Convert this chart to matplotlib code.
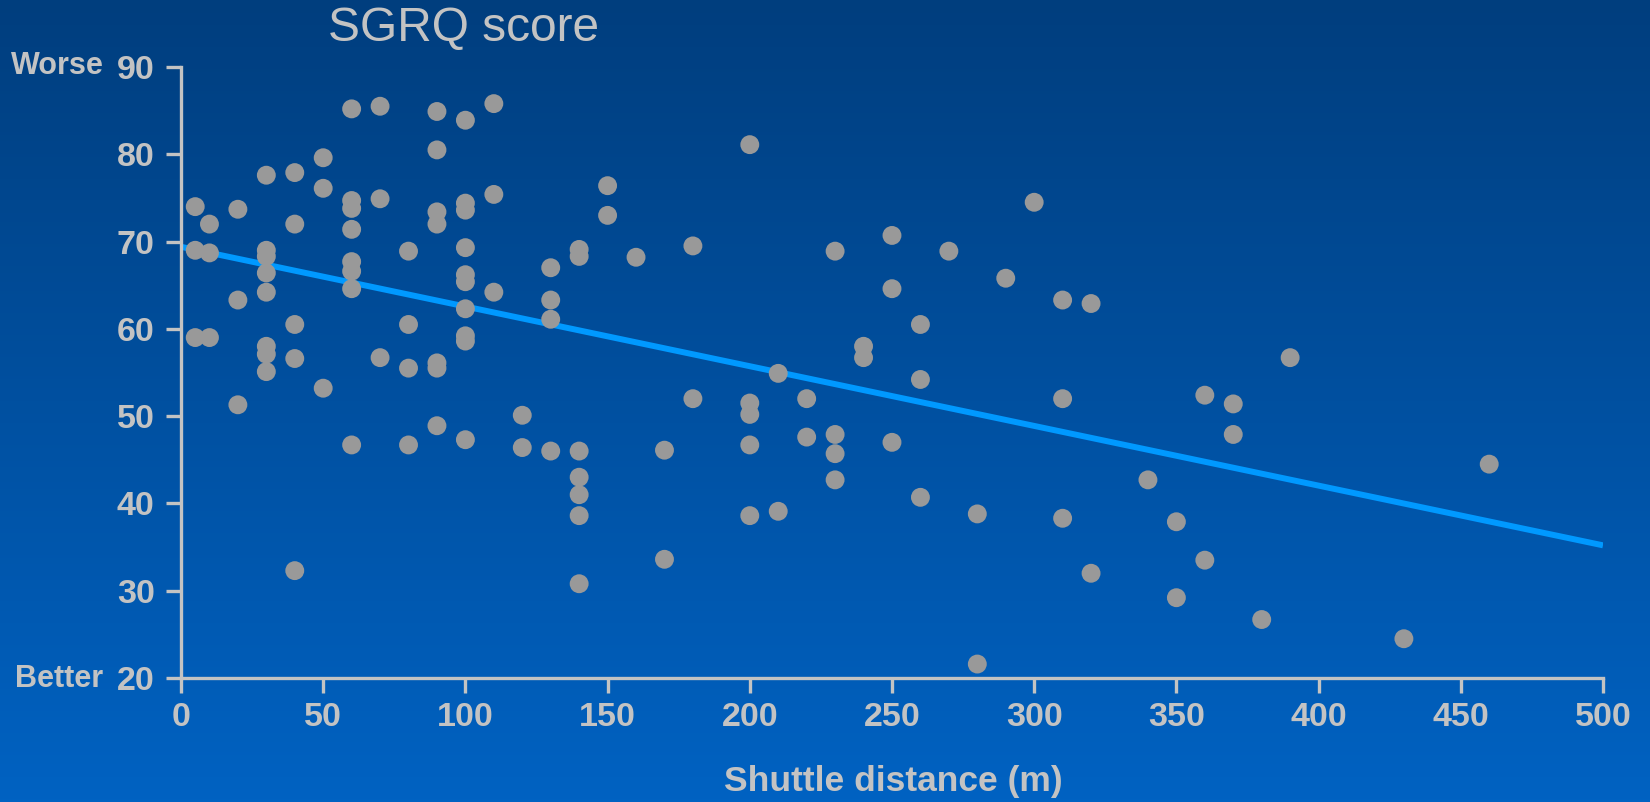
import numpy as np
import matplotlib
matplotlib.use("Agg")
import matplotlib.pyplot as plt
from matplotlib.colors import LinearSegmentedColormap

# ---- data ----
distance = [
    5, 5, 5,
    10, 10, 10,
    20, 20, 20,
    30, 30, 30, 30, 30, 30, 30, 30,
    40, 40, 40, 40, 40,
    50, 50, 50,
    60, 60, 60, 60, 60, 60, 60, 60,
    70, 70, 70,
    80, 80, 80, 80,
    90, 90, 90, 90, 90, 90, 90,
    100, 100, 100, 100, 100, 100, 100, 100, 100, 100,
    110, 110, 110,
    120, 120,
    130, 130, 130, 130,
    140, 140, 140, 140, 140, 140, 140,
    150, 150,
    160,
    170, 170,
    180, 180,
    200, 200, 200, 200, 200,
    210, 210,
    220, 220,
    230, 230, 230, 230,
    240, 240,
    250, 250, 250,
    260, 260, 260,
    270,
    280, 280,
    290,
    300,
    310, 310, 310,
    320, 320,
    340,
    350, 350,
    360, 360,
    370, 370,
    380,
    390,
    430,
    460,
]
sgrq = [
    74.0, 69.0, 59.0,
    72.0, 68.7, 59.0,
    73.7, 63.3, 51.3,
    77.6, 69.0, 68.3, 66.4, 64.2, 58.0, 57.1, 55.1,
    77.9, 72.0, 60.5, 56.6, 32.3,
    79.6, 76.1, 53.2,
    85.2, 74.7, 73.8, 71.4, 67.7, 66.6, 64.6, 46.7,
    85.5, 74.9, 56.7,
    68.9, 60.5, 55.5, 46.7,
    84.9, 80.5, 73.4, 72.0, 56.1, 55.5, 48.9,
    83.9, 74.4, 73.6, 69.3, 66.2, 65.4, 62.3, 59.2, 58.6, 47.3,
    85.8, 75.4, 64.2,
    50.1, 46.4,
    67.0, 63.3, 61.1, 46.0,
    69.1, 68.3, 46.0, 43.0, 41.0, 38.6, 30.8,
    76.4, 73.0,
    68.2,
    46.1, 33.6,
    69.5, 52.0,
    81.1, 51.5, 50.2, 46.7, 38.6,
    54.9, 39.1,
    52.0, 47.6,
    68.9, 47.9, 45.7, 42.7,
    58.0, 56.7,
    70.7, 64.6, 47.0,
    60.5, 54.2, 40.7,
    68.9,
    38.8, 21.6,
    65.8,
    74.5,
    63.3, 52.0, 38.3,
    62.9, 32.0,
    42.7,
    37.9, 29.2,
    52.4, 33.5,
    51.4, 47.9,
    26.7,
    56.7,
    24.5,
    44.5,
]
# regression line
fit_intercept = 69.4
fit_slope = -0.0684
fit_range = [0, 500]

x_ticks = [0, 50, 100, 150, 200, 250, 300, 350, 400, 450, 500]
y_ticks = [20, 30, 40, 50, 60, 70, 80, 90]

title = "SGRQ score"
x_label = "Shuttle distance (m)"
top_label = "Worse"
bottom_label = "Better"

# ---- styling ----
TEXT = "#c3c3c3"
AXIS = "#c3c3c3"
DOT = "#999999"
LINE = "#0099ff"
plt.rcParams["font.family"] = ["Liberation Sans", "DejaVu Sans"]

fig = plt.figure(figsize=(16.5, 8.02), dpi=100)

# gradient background
bg = fig.add_axes([0, 0, 1, 1], zorder=-10)
cmap = LinearSegmentedColormap.from_list("bg", ["#003e7e", "#0062c2"])
grad = np.linspace(0, 1, 256).reshape(-1, 1)
bg.imshow(grad, aspect="auto", cmap=cmap, extent=[0, 1, 0, 1], origin="upper")
bg.set_axis_off()

ax = fig.add_axes([0.1097, 0.1546, 0.9715 - 0.1097, 0.9165 - 0.1546])
ax.patch.set_alpha(0)

ax.scatter(distance, sgrq, s=185, color=DOT, edgecolors="none", zorder=3, clip_on=False)
fx = np.array(fit_range, dtype=float)
ax.plot(fx, fit_intercept + fit_slope * fx, color=LINE, lw=4.3, zorder=2,
        solid_capstyle="butt")

ax.set_xlim(0, 500)
ax.set_ylim(20, 90)
ax.set_xticks(x_ticks)
ax.set_yticks(y_ticks)
for s in ["top", "right"]:
    ax.spines[s].set_visible(False)
for s in ["left", "bottom"]:
    ax.spines[s].set_color(AXIS)
    ax.spines[s].set_linewidth(2.4)
ax.tick_params(axis="both", colors=AXIS, length=11, width=2.4, direction="out",
               labelsize=24.5, labelcolor=TEXT)
ax.tick_params(axis="x", pad=6)
ax.tick_params(axis="y", pad=8)
for lbl in ax.get_xticklabels() + ax.get_yticklabels():
    lbl.set_fontweight("bold")

fig.text(0.281, 0.965, title, ha="center", va="center", fontsize=34.5, color=TEXT)
fig.text(0.5415, 0.0256, x_label, ha="center", va="center", fontsize=25.5,
         fontweight="bold", color=TEXT)
fig.text(0.0345, 0.918, top_label, ha="center", va="center", fontsize=22,
         fontweight="bold", color=TEXT)
fig.text(0.036, 0.1534, bottom_label, ha="center", va="center", fontsize=22,
         fontweight="bold", color=TEXT)

fig.savefig("out.png", dpi=100)
